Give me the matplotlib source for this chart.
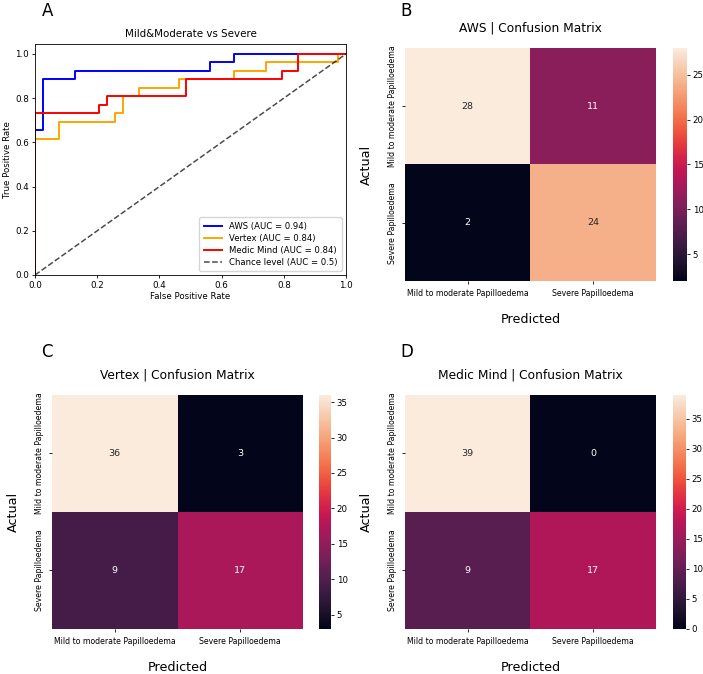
import matplotlib
matplotlib.use("Agg")
import matplotlib.pyplot as plt
import seaborn as sns
import numpy as np

# ROC curve corner points
aws_fpr = [0, 0, 0.026, 0.026, 0.128, 0.128, 0.564, 0.564, 0.641, 0.641, 1.0]
aws_tpr = [0, 0.654, 0.654, 0.885, 0.885, 0.923, 0.923, 0.962, 0.962, 1.0, 1.0]

vertex_fpr = [0, 0, 0.077, 0.077, 0.256, 0.256, 0.282, 0.282, 0.333, 0.333,
              0.462, 0.462, 0.641, 0.641, 0.744, 0.744, 0.974, 0.974, 1.0]
vertex_tpr = [0, 0.615, 0.615, 0.692, 0.692, 0.731, 0.731, 0.808, 0.808, 0.846,
              0.846, 0.885, 0.885, 0.923, 0.923, 0.962, 0.962, 1.0, 1.0]

medic_fpr = [0, 0, 0.205, 0.205, 0.231, 0.231, 0.487, 0.487, 0.795, 0.795, 0.846, 0.846, 1.0]
medic_tpr = [0, 0.731, 0.731, 0.769, 0.769, 0.808, 0.808, 0.885, 0.885, 0.923, 0.923, 1.0, 1.0]

auc_aws = 0.94
auc_vertex = 0.84
auc_medic = 0.84

# confusion matrices
class_labels = ["Mild to moderate Papilloedema", "Severe Papilloedema"]
cm_aws = [[28, 11], [2, 24]]
cm_vertex = [[36, 3], [9, 17]]
cm_medic = [[39, 0], [9, 17]]

fig = plt.figure(figsize=(7.03, 6.74), dpi=100)

# --- A: ROC ---
ax = fig.add_axes([0.0498, 0.592, 0.4424, 0.3427])
ax.plot(aws_fpr, aws_tpr, color="blue", lw=1.4, label=f"AWS (AUC = {auc_aws:.2f})")
ax.plot(vertex_fpr, vertex_tpr, color="orange", lw=1.4, label=f"Vertex (AUC = {auc_vertex:.2f})")
ax.plot(medic_fpr, medic_tpr, color="red", lw=1.4, label=f"Medic Mind (AUC = {auc_medic:.2f})")
ax.plot([0, 1], [0, 1], color="k", alpha=0.7, ls="--", lw=1.1, label="Chance level (AUC = 0.5)")
ax.set_xlim(0, 1)
ax.set_ylim(0, 1.045)
ax.set_xticks([0, 0.2, 0.4, 0.6, 0.8, 1.0])
ax.set_yticks([0, 0.2, 0.4, 0.6, 0.8, 1.0])
ax.tick_params(labelsize=6.3, length=2.5, width=0.6, pad=2)
ax.set_xlabel("False Positive Rate", fontsize=6.2, labelpad=1)
ax.set_ylabel("True Positive Rate", fontsize=6.2, labelpad=2)
ax.set_title("Mild&Moderate vs Severe", fontsize=7.4, pad=5)
for s in ax.spines.values():
    s.set_linewidth(0.6)
ax.legend(loc="lower right", fontsize=6.1, handlelength=2.2, borderpad=0.5, labelspacing=0.35)

# --- B, C, D: heatmaps ---
panels = [
    (cm_aws, "AWS | Confusion Matrix", [0.5761, 0.5831, 0.357, 0.3457], [0.9573, 0.5831, 0.0199, 0.3457]),
    (cm_vertex, "Vertex | Confusion Matrix", [0.074, 0.0668, 0.357, 0.3472], [0.4538, 0.0668, 0.0171, 0.3472]),
    (cm_medic, "Medic Mind | Confusion Matrix", [0.5761, 0.0668, 0.357, 0.3472], [0.9573, 0.0668, 0.0185, 0.3472]),
]
for cm, title, pos, cpos in panels:
    hax = fig.add_axes(pos)
    cax = fig.add_axes(cpos)
    sns.heatmap(np.array(cm), ax=hax, cbar_ax=cax, annot=True, fmt="d",
                xticklabels=class_labels, yticklabels=class_labels,
                annot_kws={"size": 6.8})
    hax.tick_params(labelsize=5.6, length=2.5, width=0.6, pad=3)
    hax.set_yticklabels(class_labels, rotation=90, va="center", fontsize=5.6)
    hax.set_xticklabels(class_labels, rotation=0, fontsize=5.6)
    hax.set_title(title, fontsize=8.8, pad=12)
    hax.set_ylabel("Actual", fontsize=9.2, labelpad=11)
    hax.set_xlabel("Predicted", fontsize=9.2, labelpad=11)
    cax.tick_params(labelsize=6.2, length=2.5, width=0.6, pad=1.5)

# panel letters
fig.text(0.067, 0.984, "A", fontsize=12, ha="center", va="center")
fig.text(0.578, 0.984, "B", fontsize=12, ha="center", va="center")
fig.text(0.067, 0.478, "C", fontsize=12, ha="center", va="center")
fig.text(0.578, 0.478, "D", fontsize=12, ha="center", va="center")

fig.savefig("out.png", dpi=100)
